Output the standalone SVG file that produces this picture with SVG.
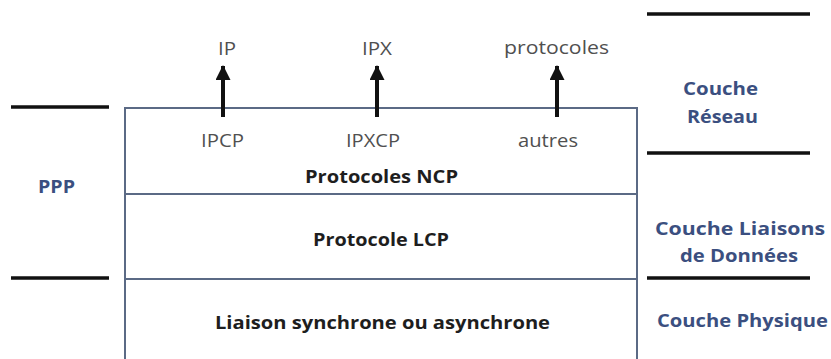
<svg xmlns="http://www.w3.org/2000/svg" width="831" height="359" viewBox="0 0 831 359">
  <defs>
    <marker id="head" viewBox="0 0 15 15" refX="14" refY="7.5" markerWidth="15" markerHeight="15" orient="auto" markerUnits="userSpaceOnUse">
      <path d="M0,0 L15,7.5 L0,15 Z" fill="#111"/>
    </marker>
  </defs>
  <style>
    text { font-family: "Open Sans", "Liberation Sans", sans-serif; font-size: 18px; }
    .lbl { fill: #505050; }
    .bold { fill: #1e1e1e; font-weight: bold; }
    .layer { fill: #3b4f80; font-weight: bold; }
    .frame { fill: none; stroke: #5b6a85; stroke-width: 2; }
    .sep { stroke: #111; stroke-width: 3.5; }
    .arrow { stroke: #111; stroke-width: 4; fill: none; marker-end: url(#head); }
  </style>
  <rect width="831" height="359" fill="#fff"/>

  <!-- layer separators -->
  <g id="separators">
    <line class="sep" x1="11" y1="107" x2="109" y2="107"/>
    <line class="sep" x1="11" y1="278" x2="109" y2="278"/>
    <line class="sep" x1="647" y1="14" x2="810" y2="14"/>
    <line class="sep" x1="647" y1="153" x2="810" y2="153"/>
    <line class="sep" x1="647" y1="278" x2="810" y2="278"/>
  </g>

  <!-- PPP stack -->
  <g id="ncp">
    <path class="frame" d="M125,359 V108 H637 V359"/>
    <text class="lbl" x="201" y="147" textLength="43" lengthAdjust="spacingAndGlyphs">IPCP</text>
    <text class="lbl" x="346" y="147" textLength="54" lengthAdjust="spacingAndGlyphs">IPXCP</text>
    <text class="lbl" x="518" y="147" textLength="60" lengthAdjust="spacingAndGlyphs">autres</text>
    <text class="bold" x="305" y="183" textLength="153" lengthAdjust="spacingAndGlyphs">Protocoles NCP</text>
  </g>
  <g id="lcp">
    <line class="frame" x1="125" y1="194" x2="637" y2="194"/>
    <text class="bold" x="313" y="246" textLength="136" lengthAdjust="spacingAndGlyphs">Protocole LCP</text>
  </g>
  <g id="physique">
    <line class="frame" x1="125" y1="279" x2="637" y2="279"/>
    <text class="bold" x="215" y="329" textLength="335" lengthAdjust="spacingAndGlyphs">Liaison synchrone ou asynchrone</text>
  </g>

  <!-- upper protocols -->
  <g id="ip"><text class="lbl" x="218" y="55" textLength="18" lengthAdjust="spacingAndGlyphs">IP</text></g>
  <g id="ipx"><text class="lbl" x="362" y="55" textLength="30" lengthAdjust="spacingAndGlyphs">IPX</text></g>
  <g id="protocoles"><text class="lbl" x="504" y="54" textLength="105" lengthAdjust="spacingAndGlyphs">protocoles</text></g>

  <g id="connectors">
    <line class="arrow" x1="223" y1="117" x2="223" y2="66"/>
    <line class="arrow" x1="377" y1="117" x2="377" y2="66"/>
    <line class="arrow" x1="557" y1="117" x2="557" y2="66"/>
  </g>

  <!-- side labels -->
  <g id="ppp"><text class="layer" x="38" y="193" textLength="37" lengthAdjust="spacingAndGlyphs">PPP</text></g>
  <g id="reseau">
    <text class="layer" x="683" y="95" textLength="75" lengthAdjust="spacingAndGlyphs">Couche</text>
    <text class="layer" x="687" y="123" textLength="71" lengthAdjust="spacingAndGlyphs">Réseau</text>
  </g>
  <g id="liaison">
    <text class="layer" x="655" y="235" textLength="170" lengthAdjust="spacingAndGlyphs">Couche Liaisons</text>
    <text class="layer" x="680" y="262" textLength="118" lengthAdjust="spacingAndGlyphs">de Données</text>
  </g>
  <g id="couche-physique"><text class="layer" x="657" y="327" textLength="171" lengthAdjust="spacingAndGlyphs">Couche Physique</text></g>
</svg>
